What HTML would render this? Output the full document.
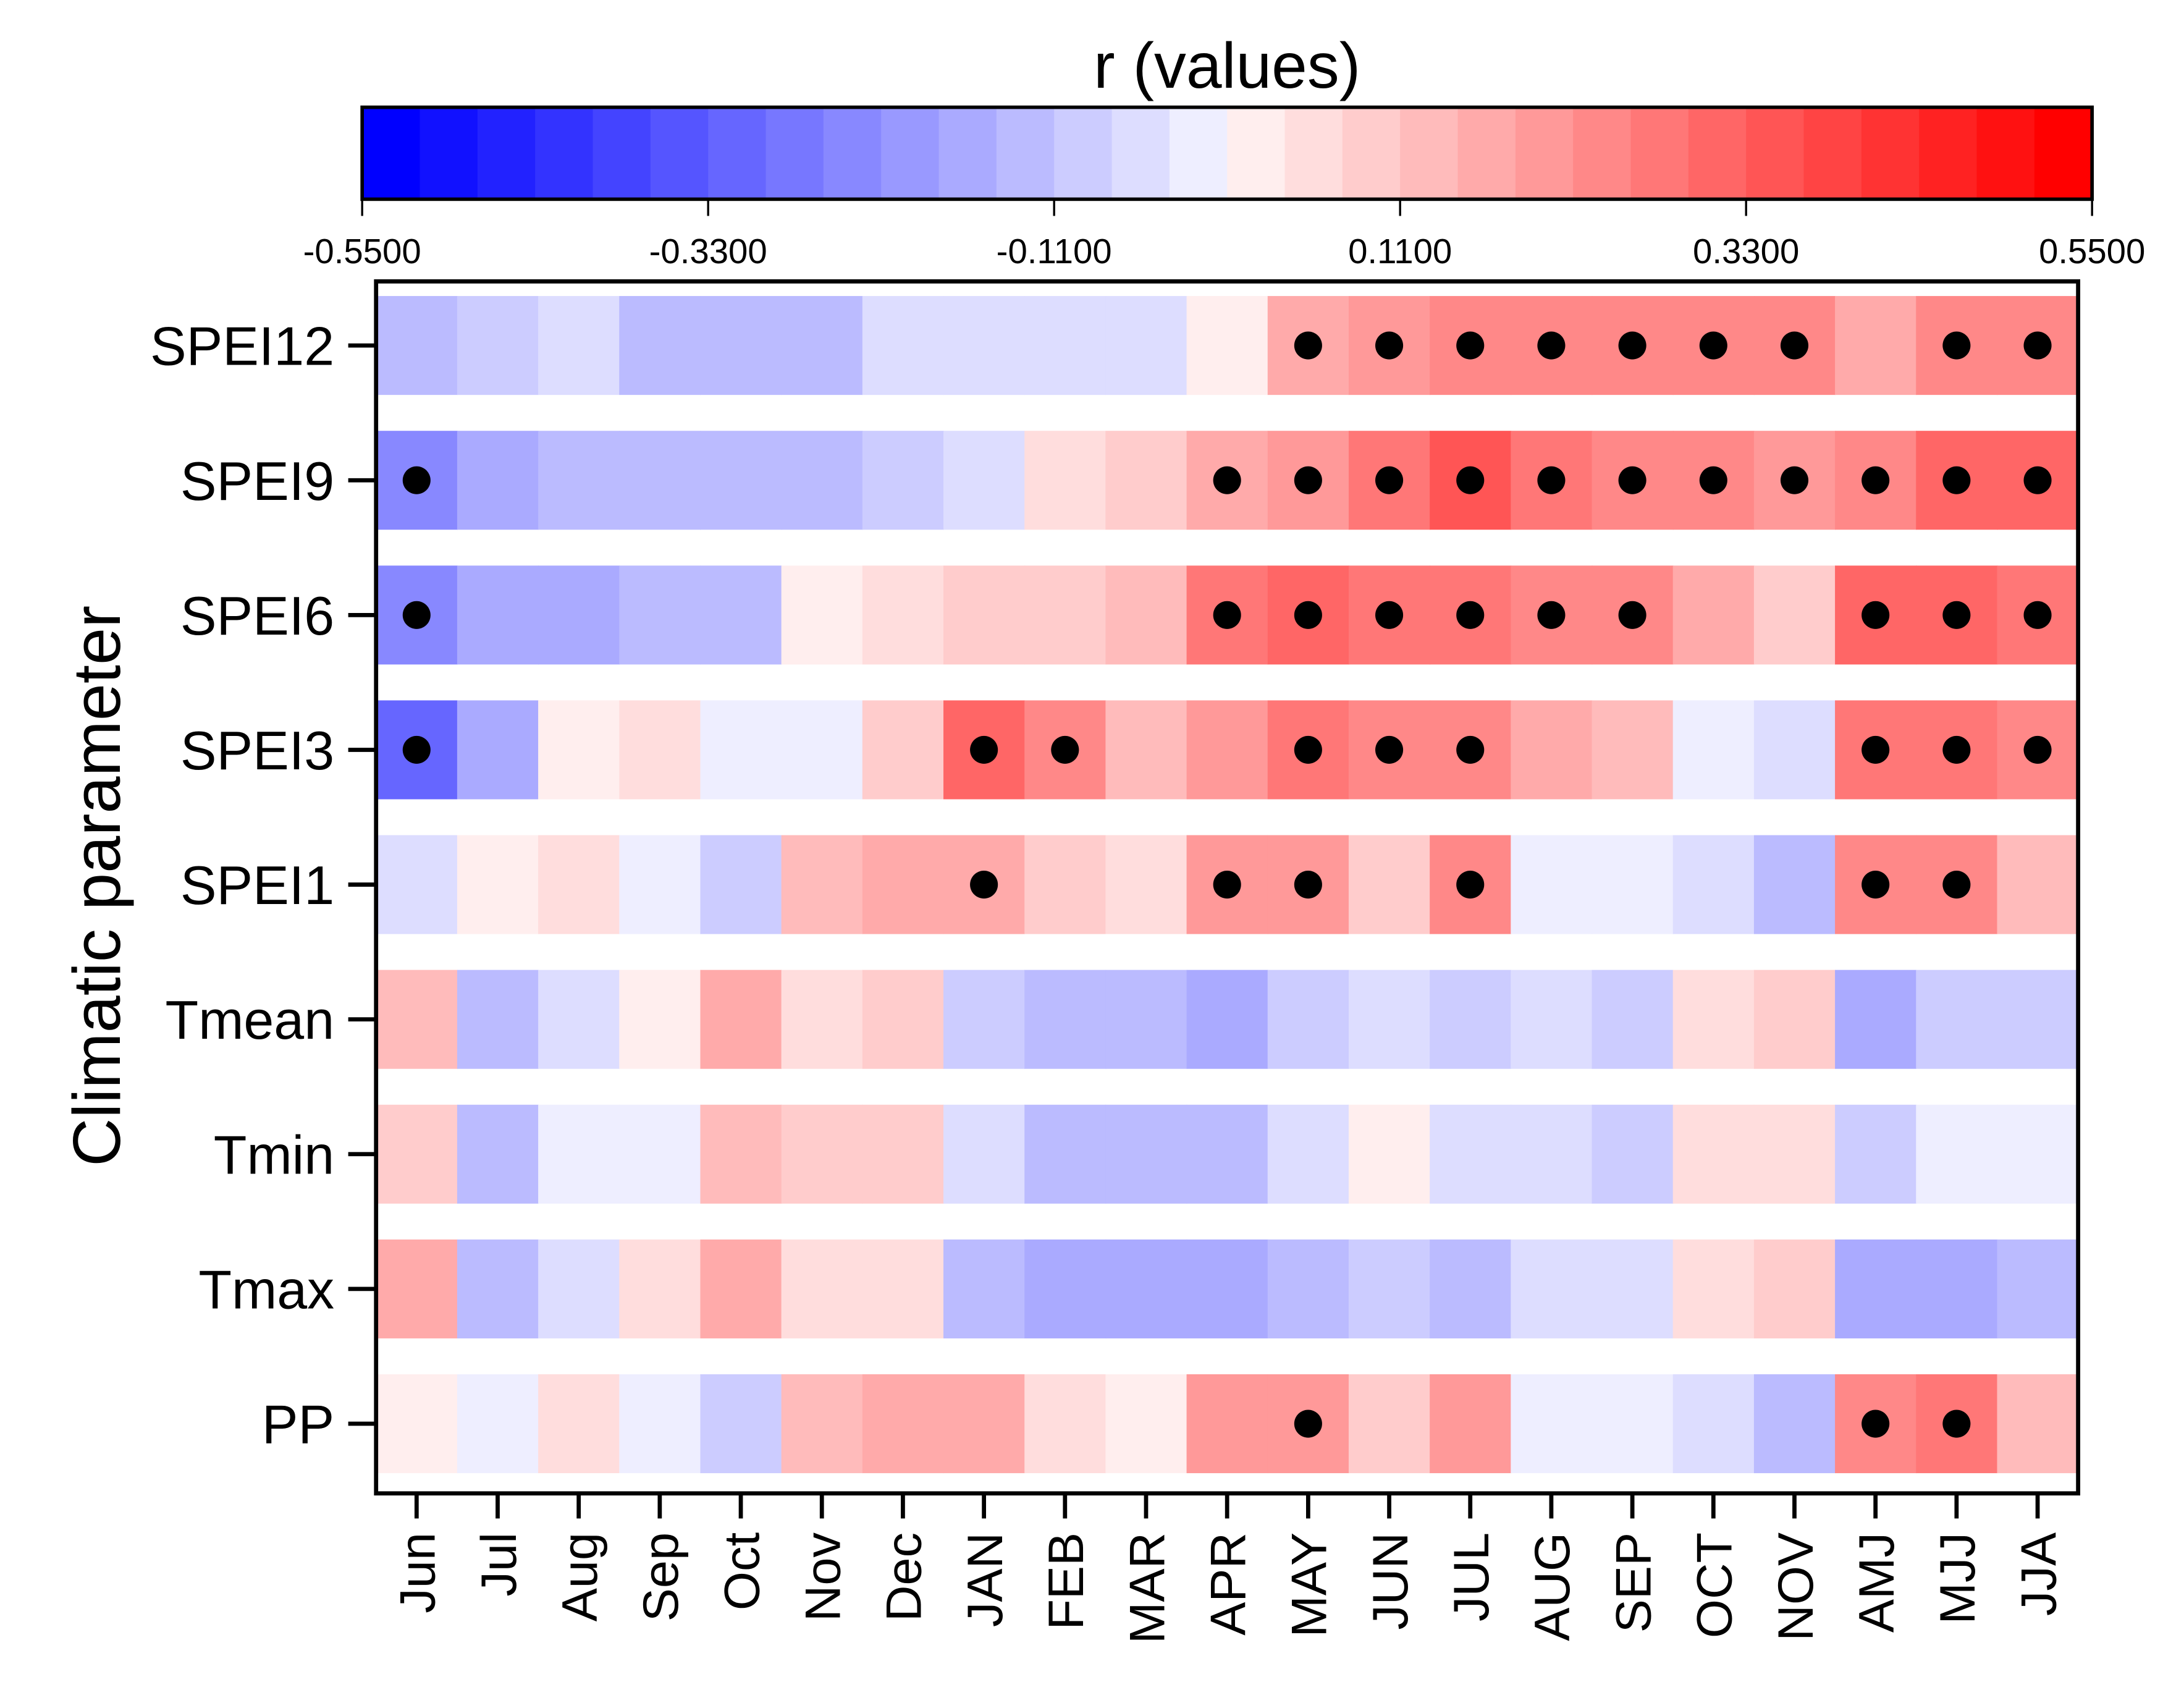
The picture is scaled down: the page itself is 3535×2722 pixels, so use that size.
<!DOCTYPE html>
<html><head><meta charset="utf-8"><style>
html,body{margin:0;padding:0;background:#fff;}
svg{display:block;font-family:"Liberation Sans",Arial,sans-serif;}
</style></head><body>
<svg id="chart" width="3535" height="2722" viewBox="0 0 1568 1207.4" xmlns="http://www.w3.org/2000/svg">
<rect x="0" y="0" width="1568" height="1207.4" fill="#fff"/>
<g id="cbar"></g>
<g id="cells"></g>
<g id="axes"></g>
</svg>
<script>
const rowsLabels = ["SPEI12","SPEI9","SPEI6","SPEI3","SPEI1","Tmean","Tmin","Tmax","PP"];
const colLabels = ["Jun","Jul","Aug","Sep","Oct","Nov","Dec","JAN","FEB","MAR","APR","MAY","JUN","JUL","AUG","SEP","OCT","NOV","AMJ","MJJ","JJA"];
const cbTicks = [-0.55,-0.33,-0.11,0.11,0.33,0.55];
const cbTickLabels = ["-0.5500","-0.3300","-0.1100","0.1100","0.3300","0.5500"];
const vSPEI12 = [-0.13,-0.09,-0.05,-0.13,-0.13,-0.13,-0.05,-0.05,-0.05,-0.05,0.02,0.16,0.2,0.25,0.25,0.25,0.25,0.25,0.16,0.25,0.25];
const vSPEI9 = [-0.24,-0.16,-0.13,-0.13,-0.13,-0.13,-0.09,-0.05,0.06,0.09,0.16,0.2,0.27,0.34,0.27,0.25,0.25,0.2,0.25,0.3,0.3];
const vSPEI6 = [-0.24,-0.16,-0.16,-0.13,-0.13,0.02,0.06,0.09,0.09,0.13,0.27,0.3,0.27,0.27,0.25,0.23,0.16,0.09,0.3,0.3,0.27];
const vSPEI3 = [-0.3,-0.18,0.02,0.06,-0.02,-0.02,0.09,0.3,0.25,0.13,0.2,0.27,0.25,0.25,0.16,0.13,-0.02,-0.05,0.27,0.27,0.25];
const vSPEI1 = [-0.05,0.02,0.06,-0.02,-0.09,0.13,0.16,0.16,0.09,0.06,0.2,0.2,0.09,0.23,-0.02,-0.02,-0.05,-0.13,0.25,0.25,0.13];
const vTmean = [0.13,-0.13,-0.05,0.02,0.16,0.06,0.09,-0.09,-0.13,-0.13,-0.18,-0.09,-0.05,-0.09,-0.05,-0.09,0.06,0.09,-0.18,-0.09,-0.09];
const vTmin = [0.09,-0.13,-0.02,-0.02,0.13,0.09,0.09,-0.05,-0.13,-0.13,-0.13,-0.05,0.02,-0.05,-0.05,-0.09,0.06,0.06,-0.09,-0.02,-0.02];
const vTmax = [0.16,-0.13,-0.05,0.06,0.16,0.06,0.06,-0.13,-0.18,-0.16,-0.18,-0.13,-0.09,-0.13,-0.05,-0.05,0.06,0.09,-0.18,-0.18,-0.13];
const vPP = [0.02,-0.02,0.06,-0.02,-0.09,0.13,0.16,0.16,0.06,0.02,0.2,0.2,0.09,0.2,-0.02,-0.02,-0.05,-0.13,0.25,0.27,0.13];
const sigSPEI12 = [11,12,13,14,15,16,17,19,20];
const sigSPEI9 = [0,10,11,12,13,14,15,16,17,18,19,20];
const sigSPEI6 = [0,10,11,12,13,14,15,18,19,20];
const sigSPEI3 = [0,7,8,11,12,13,18,19,20];
const sigSPEI1 = [7,10,11,13,18,19];
const sigTmean = [];
const sigTmin = [];
const sigTmax = [];
const sigPP = [11,18,19];
const values = [vSPEI12,vSPEI9,vSPEI6,vSPEI3,vSPEI1,vTmean,vTmin,vTmax,vPP];
const sigs = [sigSPEI12,sigSPEI9,sigSPEI6,sigSPEI3,sigSPEI1,sigTmean,sigTmin,sigTmax,sigPP];

const NS="http://www.w3.org/2000/svg";
function mk(tag,attrs,parent){const e=document.createElementNS(NS,tag);for(const k in attrs)e.setAttribute(k,attrs[k]);parent.appendChild(e);return e;}
const VMIN=-0.55,VMAX=0.55,NB=30;
function binColor(i){if(i<15){const c=17*i;return `rgb(${c},${c},255)`;}const c=17*(29-i);return `rgb(255,${c},${c})`;}
function colorOf(v){let i=Math.floor((v-VMIN)/(VMAX-VMIN)*NB);i=Math.max(0,Math.min(NB-1,i));return binColor(i);}
const CBX0=260,CBX1=1502,CBY0=77,CBY1=143;
const cbx=v=>CBX0+(v-VMIN)/(VMAX-VMIN)*(CBX1-CBX0);
const cb=document.getElementById('cbar');
for(let i=0;i<NB;i++){const w=(CBX1-CBX0)/NB;
 const r=mk('rect',{x:CBX0+i*w,y:CBY0,width:w+0.5,height:CBY1-CBY0,fill:binColor(i)},cb);
 
 }
mk('rect',{x:CBX0,y:CBY0,width:CBX1-CBX0,height:CBY1-CBY0,fill:'none',stroke:'#000','stroke-width':2.5},cb);
cbTicks.forEach((t,i)=>{const x=cbx(t);
 mk('line',{x1:x,x2:x,y1:CBY1,y2:155,stroke:'#000','stroke-width':1.5},cb);
 const tx=mk('text',{x:x,y:189,'font-size':25,'text-anchor':'middle',fill:'#000'},cb);tx.textContent=cbTickLabels[i];
 
 });
const ttl=mk('text',{x:881,y:63,'font-size':46,'text-anchor':'middle',fill:'#000'},cb);ttl.textContent='r (values)';


const PX0=270,PX1=1492,PY0=202,PY1=1072;
const colW=(PX1-PX0)/colLabels.length;
const xc=i=>PX0+colW*(i+0.5);
const yc=j=>248+96.75*j;
const CH=71;
const cells=document.getElementById('cells');
values.forEach((row,j)=>{row.forEach((v,i)=>{
 const r=mk('rect',{x:PX0+colW*i,y:yc(j)-CH/2,width:colW+0.4,height:CH,fill:colorOf(v)},cells);
 
 });
 sigs[j].forEach(i=>{const d=mk('circle',{cx:xc(i),cy:yc(j),r:10,fill:'#000'},cells);
 
 });});
const ax=document.getElementById('axes');
mk('rect',{x:PX0,y:PY0,width:PX1-PX0,height:PY1-PY0,fill:'none',stroke:'#000','stroke-width':3},ax);
rowsLabels.forEach((l,j)=>{mk('line',{x1:250,x2:PX0,y1:yc(j),y2:yc(j),stroke:'#000','stroke-width':3},ax);
 const t=mk('text',{x:240,y:yc(j)+14,'font-size':39,'text-anchor':'end',fill:'#000'},ax);t.textContent=l;
 
 });
colLabels.forEach((l,i)=>{const x=xc(i);
 mk('line',{x1:x,x2:x,y1:PY1,y2:1090,stroke:'#000','stroke-width':3},ax);
 const t=mk('text',{x:0,y:0,'font-size':36,'text-anchor':'end',fill:'#000',transform:`translate(${x+13},1100) rotate(-90)`},ax);t.textContent=l;
 
 });
const yt=mk('text',{x:0,y:0,'font-size':48,'text-anchor':'middle',fill:'#000',transform:'translate(86,636) rotate(-90)'},ax);yt.textContent='Climatic parameter';


</script>
</body></html>
